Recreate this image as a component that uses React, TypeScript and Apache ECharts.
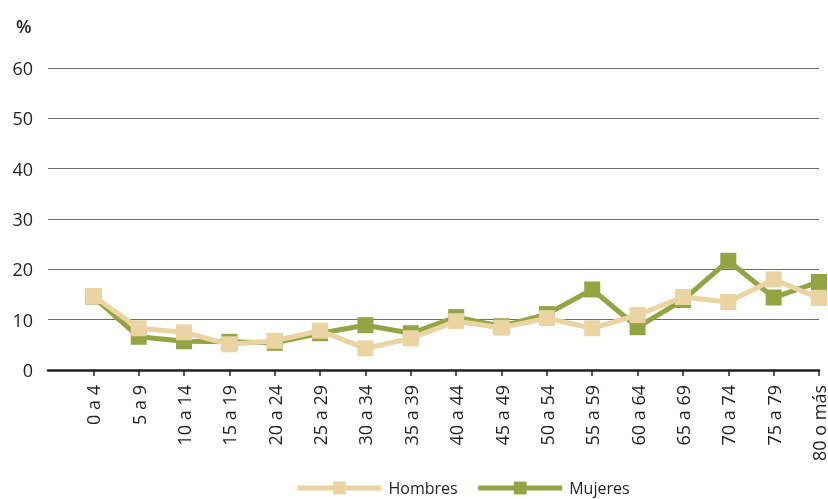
import React, { useEffect, useRef } from "react";
import * as echarts from "echarts";

const ageGroups = [
  "0 a 4", "5 a 9", "10 a 14", "15 a 19", "20 a 24", "25 a 29", "30 a 34", "35 a 39",
  "40 a 44", "45 a 49", "50 a 54", "55 a 59", "60 a 64", "65 a 69", "70 a 74", "75 a 79", "80 o más",
];
const hombres = [14.7, 8.3, 7.5, 5.1, 5.8, 7.8, 4.3, 6.3, 9.7, 8.4, 10.3, 8.3, 10.9, 14.5, 13.5, 18.0, 14.3];
const mujeres = [14.6, 6.6, 5.7, 5.6, 5.4, 7.3, 8.9, 7.3, 10.5, 8.7, 11.1, 16.0, 8.5, 13.9, 21.7, 14.4, 17.5];
const yTicks = { min: 0, max: 60, interval: 10 };

const FONT = "'Open Sans', sans-serif";
const TEXT = "#231F20";
const BEIGE = "#EAD4A2";
const OLIVE = "#94A443";

export default function App() {
  const ref = useRef<HTMLDivElement>(null);
  useEffect(() => {
    if (!ref.current) return;
    const chart = echarts.init(ref.current, null, { renderer: "svg" });
    const cats = ["", ...ageGroups];
    chart.setOption({
      animation: false,
      textStyle: { fontFamily: FONT },
      title: {
        text: "%",
        left: 11,
        top: 12,
        textStyle: { fontFamily: FONT, fontSize: 18, fontWeight: 600, color: TEXT },
      },
      grid: { left: 48, right: 0, top: 68, bottom: 129, containLabel: false },
      legend: {
        left: 290,
        top: 475,
        itemWidth: 84,
        itemHeight: 16,
        itemGap: 18,
        data: ["Hombres", "Mujeres"],
        lineStyle: { width: 5 },
        textStyle: { fontFamily: FONT, fontSize: 16, color: TEXT, padding: [0, 0, 0, 2] },
      },
      xAxis: {
        type: "category",
        data: cats,
        boundaryGap: false,
        axisLine: { lineStyle: { color: TEXT, width: 2.5 } },
        axisTick: {
          show: true,
          length: 6,
          interval: (i: number) => i > 0,
          lineStyle: { color: TEXT, width: 1.5 },
        },
        axisLabel: {
          rotate: 90,
          interval: 0,
          margin: 15,
          fontFamily: FONT,
          fontSize: 18,
          color: TEXT,
        },
        splitLine: { show: false },
      },
      yAxis: {
        type: "value",
        min: yTicks.min,
        max: yTicks.max,
        interval: yTicks.interval,
        axisLine: { show: false },
        axisTick: { show: false },
        axisLabel: { margin: 15, fontFamily: FONT, fontSize: 18, color: TEXT },
        splitLine: { lineStyle: { color: "#6E6E6E", width: 1.2 } },
      },
      series: [
        {
          name: "Mujeres",
          type: "line",
          data: [null, ...mujeres],
          symbol: "rect",
          symbolSize: 16,
          lineStyle: { color: OLIVE, width: 5 },
          itemStyle: { color: OLIVE },
          z: 2,
        },
        {
          name: "Hombres",
          type: "line",
          data: [null, ...hombres],
          symbol: "rect",
          symbolSize: 16,
          lineStyle: { color: BEIGE, width: 5 },
          itemStyle: { color: BEIGE },
          z: 3,
        },
      ],
    });
    return () => chart.dispose();
  }, []);
  return (
    <div
      ref={ref}
      style={{ position: "fixed", left: 0, top: 0, width: 828, height: 499 }}
    />
  );
}
